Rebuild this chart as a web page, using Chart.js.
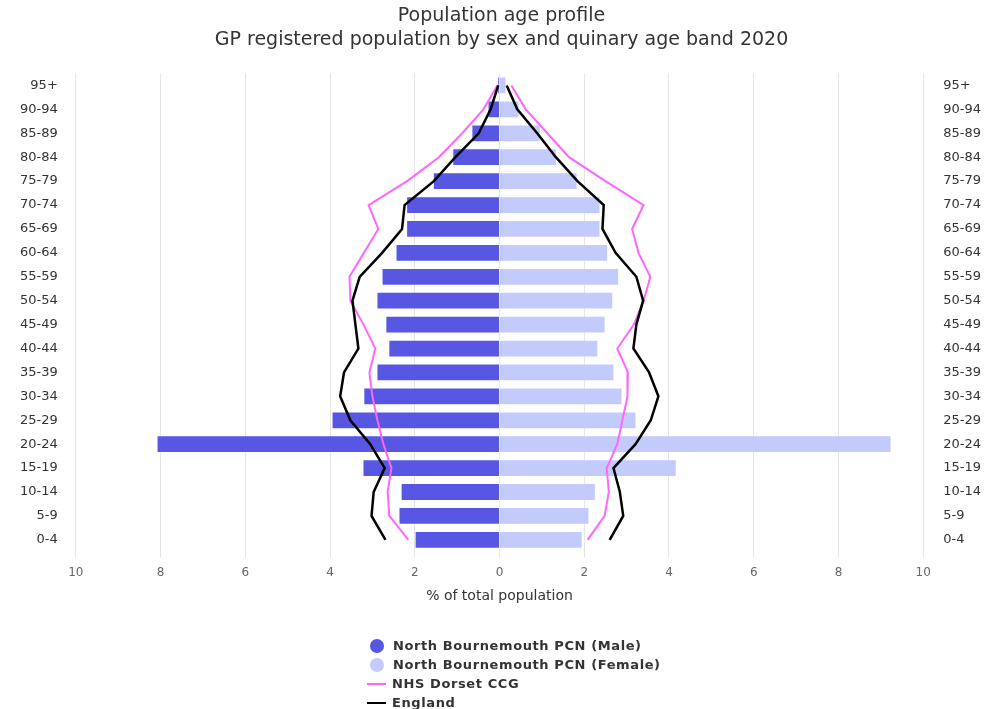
<!DOCTYPE html>
<html>
<head>
<meta charset="utf-8">
<script src="https://cdn.jsdelivr.net/npm/chart.js@4/dist/chart.umd.min.js"></script>
<style>
  body { margin: 0; background: #fff; }
  #wrap { position: relative; width: 993px; height: 709px; }
  #legend { position: absolute; left: 367px; top: 636px; font-family: "DejaVu Sans", sans-serif; font-weight: bold; font-size: 13px; color: #333; letter-spacing: 0.6px; }
  #legend div { height: 19px; line-height: 19px; display: flex; align-items: center; }
  #legend .dot { width: 14px; height: 14px; border-radius: 50%; margin: 0 9px 0 3px; }
  #legend .ln { width: 19px; height: 2px; margin: 0 6px 0 0; }
</style>
</head>
<body>
<div id="wrap">
  <canvas id="pyramid" width="993" height="709"></canvas>
  <div id="legend"></div>
</div>
<script>
const ageBands = ["95+", "90-94", "85-89", "80-84", "75-79", "70-74", "65-69", "60-64", "55-59", "50-54",
  "45-49", "40-44", "35-39", "30-34", "25-29", "20-24", "15-19", "10-14", "5-9", "0-4"];

// % of total population, top (95+) to bottom (0-4)
const pcnMale = [0.03, 0.26, 0.64, 1.09, 1.55, 2.18, 2.18, 2.43, 2.76, 2.88,
  2.67, 2.6, 2.88, 3.19, 3.94, 8.07, 3.21, 2.31, 2.36, 1.98];
const pcnFemale = [0.14, 0.45, 0.95, 1.33, 1.82, 2.36, 2.36, 2.54, 2.8, 2.66,
  2.48, 2.31, 2.69, 2.88, 3.21, 9.23, 4.16, 2.25, 2.1, 1.94];
const ccgMale = [0.05, 0.38, 0.88, 1.43, 2.18, 3.09, 2.86, 3.2, 3.54, 3.52,
  3.21, 2.93, 3.07, 3.0, 2.88, 2.74, 2.55, 2.64, 2.6, 2.15];
const ccgFemale = [0.28, 0.62, 1.13, 1.64, 2.5, 3.4, 3.13, 3.28, 3.56, 3.4,
  3.17, 2.78, 3.03, 3.02, 2.9, 2.78, 2.53, 2.58, 2.48, 2.08];
const engMale = [0.03, 0.21, 0.49, 1.04, 1.55, 2.24, 2.3, 2.77, 3.3, 3.47,
  3.4, 3.33, 3.67, 3.76, 3.52, 3.05, 2.71, 2.97, 3.02, 2.69];
const engFemale = [0.17, 0.42, 0.89, 1.33, 1.84, 2.46, 2.43, 2.74, 3.23, 3.39,
  3.23, 3.16, 3.53, 3.75, 3.57, 3.21, 2.69, 2.84, 2.92, 2.6];

const maleColour = "#5757e3";
const femaleColour = "#c3cbfd";
const ccgColour = "#ff66ff";
const engColour = "#000000";

const neg = arr => arr.map(v => -v);

const ctx = document.getElementById("pyramid").getContext("2d");

new Chart(ctx, {
  type: "bar",
  data: {
    labels: ageBands,
    datasets: [
      {
        label: "North Bournemouth PCN (Male)",
        data: neg(pcnMale),
        backgroundColor: maleColour,
        grouped: false,
        barPercentage: 0.66,
        categoryPercentage: 1,
        order: 3,
      },
      {
        label: "North Bournemouth PCN (Female)",
        data: pcnFemale,
        backgroundColor: femaleColour,
        grouped: false,
        barPercentage: 0.66,
        categoryPercentage: 1,
        order: 3,
      },
      {
        type: "line",
        label: "NHS Dorset CCG",
        data: neg(ccgMale),
        borderColor: ccgColour,
        borderWidth: 2,
        pointRadius: 0,
        indexAxis: "y",
        order: 2,
      },
      {
        type: "line",
        label: "NHS Dorset CCG",
        data: ccgFemale,
        borderColor: ccgColour,
        borderWidth: 2,
        pointRadius: 0,
        indexAxis: "y",
        order: 2,
      },
      {
        type: "line",
        label: "England",
        data: neg(engMale),
        borderColor: engColour,
        borderWidth: 2.5,
        pointRadius: 0,
        indexAxis: "y",
        order: 1,
      },
      {
        type: "line",
        label: "England",
        data: engFemale,
        borderColor: engColour,
        borderWidth: 2.5,
        pointRadius: 0,
        indexAxis: "y",
        order: 1,
      },
    ],
  },
  options: {
    indexAxis: "y",
    responsive: false,
    animation: false,
    layout: {
      padding: { left: 2, right: -8, top: 4, bottom: 104 },
    },
    plugins: {
      legend: { display: false },
      tooltip: { enabled: false },
      title: {
        display: true,
        text: ["Population age profile", "GP registered population by sex and quinary age band 2020"],
        color: "#333333",
        font: { family: "DejaVu Sans", size: 19, weight: "normal", lineHeight: 1.25 },
        padding: { top: 0, bottom: 22 },
      },
    },
    scales: {
      x: {
        min: -10,
        max: 10,
        ticks: {
          stepSize: 2,
          color: "#666666",
          font: { family: "DejaVu Sans", size: 12 },
          padding: 8,
          callback: (v) => Math.abs(v),
        },
        grid: { color: "#e6e6e6", drawTicks: true, tickLength: 6 },
        border: { display: false },
        title: {
          display: true,
          text: "% of total population",
          color: "#333333",
          font: { family: "DejaVu Sans", size: 14 },
          padding: { top: 0, bottom: 0 },
        },
      },
      y: {
        position: "left",
        ticks: { color: "#333333", font: { family: "DejaVu Sans", size: 13 }, padding: 18 },
        grid: { display: false, drawTicks: false },
        border: { display: false },
      },
      y2: {
        type: "category",
        labels: ageBands,
        position: "right",
        ticks: { color: "#333333", font: { family: "DejaVu Sans", size: 13 }, padding: 20 },
        grid: { display: false, drawTicks: false },
        border: { display: false },
      },
    },
  },
});

// legend, one entry per line
const legendItems = [
  { text: "North Bournemouth PCN (Male)", colour: maleColour, kind: "dot" },
  { text: "North Bournemouth PCN (Female)", colour: femaleColour, kind: "dot" },
  { text: "NHS Dorset CCG", colour: ccgColour, kind: "ln" },
  { text: "England", colour: engColour, kind: "ln" },
];
const legend = document.getElementById("legend");
legendItems.forEach((item) => {
  const row = document.createElement("div");
  const mark = document.createElement("span");
  mark.className = item.kind;
  mark.style.background = item.colour;
  row.appendChild(mark);
  row.appendChild(document.createTextNode(item.text));
  legend.appendChild(row);
});
</script>
</body>
</html>
